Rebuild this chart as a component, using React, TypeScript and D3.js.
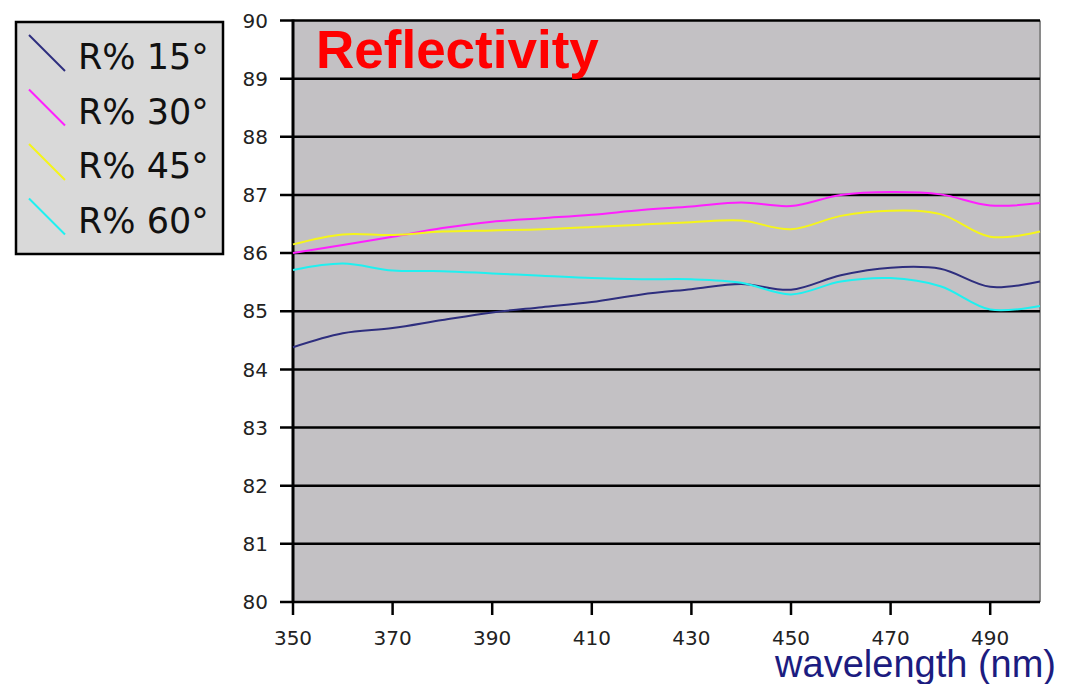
import * as d3 from "d3";

const wavelengths = [350, 360, 370, 380, 390, 400, 410, 420, 430, 440, 450, 460, 470, 480, 490, 500];
const r15 = [84.38, 84.62, 84.71, 84.85, 84.98, 85.07, 85.16, 85.29, 85.38, 85.47, 85.37, 85.62, 85.75, 85.73, 85.42, 85.51];
const r30 = [86.0, 86.14, 86.28, 86.43, 86.54, 86.6, 86.66, 86.74, 86.8, 86.87, 86.81, 87.0, 87.05, 87.01, 86.82, 86.86];
const r45 = [86.15, 86.32, 86.31, 86.37, 86.39, 86.41, 86.45, 86.49, 86.53, 86.56, 86.41, 86.64, 86.73, 86.67, 86.28, 86.37];
const r60 = [85.71, 85.82, 85.7, 85.69, 85.65, 85.61, 85.57, 85.55, 85.55, 85.49, 85.29, 85.51, 85.57, 85.43, 85.03, 85.09];

const seriesNames = ["R% 15°", "R% 30°", "R% 45°", "R% 60°"];
const seriesColors = ["#2e2e7e", "#ff1fff", "#f5f51a", "#1ff0f0"];
const seriesValues = [r15, r30, r45, r60];

const xTicks = [350, 370, 390, 410, 430, 450, 470, 490];
const yTicks = [80, 81, 82, 83, 84, 85, 86, 87, 88, 89, 90];

export default function App() {
  const width = 1066;
  const height = 684;
  const left = 293;
  const right = 1040;
  const top = 20.5;
  const bottom = 602;

  const x = d3.scaleLinear().domain([350, 500]).range([left, right]);
  const y = d3.scaleLinear().domain([80, 90]).range([bottom, top]);

  const line = d3
    .line<number>()
    .x((_, i) => x(wavelengths[i]))
    .y((d) => y(d))
    .curve(d3.curveCatmullRom.alpha(0.5));

  const tickFont = "DejaVu Sans, sans-serif";

  return (
    <svg
      width={width}
      height={height}
      style={{ position: "absolute", left: 0, top: 0, background: "#fff" }}
    >
      {/* plot area */}
      <rect x={left} y={top} width={right - left} height={bottom - top} fill="#c3c1c4" />
      <line x1={right} x2={right} y1={top} y2={bottom} stroke="#8a8a8a" strokeWidth={2} />

      {/* horizontal grid + y ticks */}
      {yTicks.map((t) => (
        <g key={t}>
          <line x1={280} x2={right} y1={y(t)} y2={y(t)} stroke="#000" strokeWidth={2.5} />
          <text
            x={268}
            y={y(t)}
            dy="0.36em"
            textAnchor="end"
            fontFamily={tickFont}
            fontSize={20}
            fill="#222"
          >
            {t}
          </text>
        </g>
      ))}

      {/* x ticks */}
      {xTicks.map((t) => (
        <g key={t}>
          <line x1={x(t)} x2={x(t)} y1={bottom} y2={615} stroke="#000" strokeWidth={2.5} />
          <text
            x={x(t)}
            y={645}
            textAnchor="middle"
            fontFamily={tickFont}
            fontSize={20}
            fill="#222"
          >
            {t}
          </text>
        </g>
      ))}

      <line x1={left} x2={left} y1={top - 1} y2={bottom + 1} stroke="#000" strokeWidth={3} />

      {/* series */}
      {seriesValues.map((vals, i) => (
        <path
          key={seriesNames[i]}
          d={line(vals) || ""}
          fill="none"
          stroke={seriesColors[i]}
          strokeWidth={2}
        />
      ))}

      {/* title */}
      <text
        x={316}
        y={68}
        fontFamily="Liberation Sans, Arial, sans-serif"
        fontWeight="bold"
        fontSize={53}
        fill="#ff0000"
      >
        Reflectivity
      </text>

      {/* x axis label */}
      <text
        x={1056}
        y={677}
        textAnchor="end"
        fontFamily="Liberation Sans, Arial, sans-serif"
        fontSize={38}
        fill="#1c1c80"
      >
        wavelength (nm)
      </text>

      {/* legend */}
      <rect x={16} y={22} width={207} height={232} fill="#d9d9d9" stroke="#000" strokeWidth={2.5} />
      {seriesNames.map((name, i) => (
        <g key={name} transform={`translate(0, ${i * 54.5})`}>
          <line x1={29} y1={35} x2={65} y2={71} stroke={seriesColors[i]} strokeWidth={2} />
          <text x={78} y={69} fontFamily={tickFont} fontSize={35} fill="#111">
            {name}
          </text>
        </g>
      ))}
    </svg>
  );
}
